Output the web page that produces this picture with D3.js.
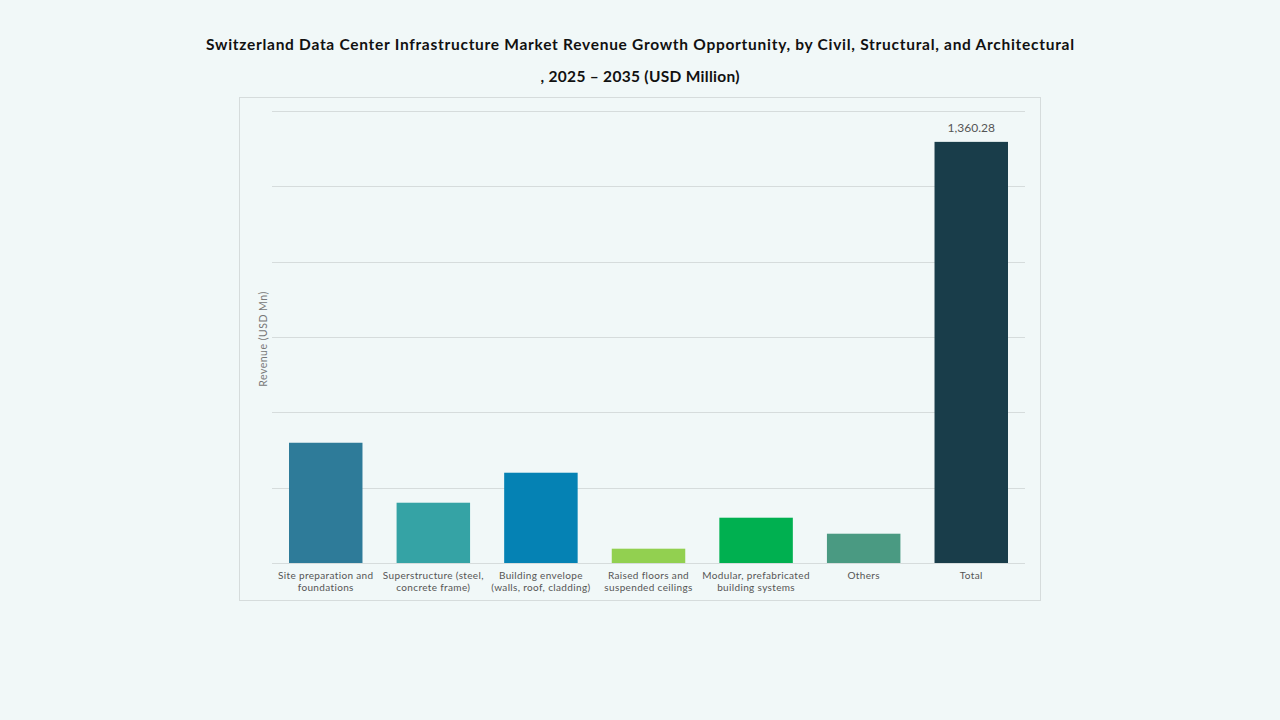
<!DOCTYPE html>
<html lang="en">
    <head>
        <meta charset="UTF-8" />
        <title>Switzerland Data Center Infrastructure Market</title>
        <style>
            body {
                margin: 0;
                background: #f1f8f8;
            }
            svg {
                display: block;
                font-family: 'Lato', 'DejaVu Sans', sans-serif;
            }
            .grid line {
                stroke: #d6dcdc;
                stroke-width: 1px;
            }
            .cat-label {
                fill: #555;
                font-size: 10px;
                letter-spacing: 0.35px;
            }
        </style>
    </head>
    <body>
        <svg width="1280" height="720"></svg>
        <script src="https://d3js.org/d3.v7.min.js"></script>
        <script>
            // categories (each label split into its two lines)
            const categories = [
                ['Site preparation and', 'foundations'],
                ['Superstructure (steel,', 'concrete frame)'],
                ['Building envelope', '(walls, roof, cladding)'],
                ['Raised floors and', 'suspended ceilings'],
                ['Modular, prefabricated', 'building systems'],
                ['Others'],
                ['Total']
            ];
            // revenue, USD Mn (only the total is printed on the chart)
            const values = [388.4, 194.7, 291.6, 46.2, 146.3, 94.6, 1360.28];
            const barColors = ['#2e7b99', '#35a3a5', '#0582b4', '#92d050', '#00b050', '#4a9a82', '#193d4a'];
            const yMax = 1460;
            const gridCount = 6;

            const svg = d3.select('svg');

            // title
            const title = svg.append('g').attr('font-weight', 700).attr('font-size', 15.5).attr('fill', '#111').attr('text-anchor', 'middle');
            title.append('text')
                .attr('x', 640)
                .attr('y', 50)
                .attr('textLength', 868)
                .attr('lengthAdjust', 'spacing')
                .text('Switzerland Data Center Infrastructure Market Revenue Growth Opportunity, by Civil, Structural, and Architectural');
            title.append('text')
                .attr('x', 640)
                .attr('y', 82)
                .attr('textLength', 199)
                .attr('lengthAdjust', 'spacing')
                .text(', 2025 \u2013 2035 (USD Million)');

            // frame
            svg.append('rect').attr('x', 239.5).attr('y', 97.5).attr('width', 801).attr('height', 503).attr('fill', 'none').attr('stroke', '#d6dcdc');

            const margin = { left: 272, right: 1025, top: 111, bottom: 563 };

            const x = d3
                .scaleBand()
                .domain(d3.range(categories.length))
                .range([margin.left, margin.right])
                .paddingInner(0.317)
                .paddingOuter(0.158);

            const y = d3.scaleLinear().domain([0, yMax]).range([margin.bottom, margin.top]);

            // gridlines
            const gridTicks = d3.range(gridCount + 1).map((i) => (i * yMax) / gridCount);
            svg.append('g')
                .attr('class', 'grid')
                .selectAll('line')
                .data(gridTicks)
                .enter()
                .append('line')
                .attr('x1', margin.left)
                .attr('x2', margin.right)
                .attr('y1', (d) => Math.round(y(d)) + 0.5)
                .attr('y2', (d) => Math.round(y(d)) + 0.5);

            // bars
            svg.append('g')
                .selectAll('rect')
                .data(values)
                .enter()
                .append('rect')
                .attr('x', (d, i) => x(i))
                .attr('width', x.bandwidth())
                .attr('y', (d) => y(d))
                .attr('height', (d) => y(0) - y(d))
                .attr('fill', (d, i) => barColors[i]);

            // value label on total
            const last = values.length - 1;
            svg.append('text')
                .attr('x', x(last) + x.bandwidth() / 2)
                .attr('y', y(values[last]) - 10)
                .attr('text-anchor', 'middle')
                .attr('font-size', 12)
                .attr('fill', '#555')
                .text(d3.format(',.2f')(values[last]));

            // category labels
            const catLabels = svg
                .append('g')
                .selectAll('text')
                .data(categories)
                .enter()
                .append('text')
                .attr('class', 'cat-label')
                .attr('text-anchor', 'middle')
                .attr('transform', (d, i) => `translate(${x(i) + x.bandwidth() / 2},579)`);
            catLabels
                .selectAll('tspan')
                .data((d) => d)
                .enter()
                .append('tspan')
                .attr('x', 0)
                .attr('dy', (d, i) => (i === 0 ? 0 : 11.5))
                .text((d) => d);

            // y axis title
            svg.append('text')
                .attr('transform', 'translate(267,339) rotate(-90)')
                .attr('text-anchor', 'middle')
                .attr('font-size', 10.5)
                .attr('letter-spacing', 0.5)
                .attr('fill', '#777')
                .text('Revenue (USD Mn)');
        </script>
    </body>
</html>
